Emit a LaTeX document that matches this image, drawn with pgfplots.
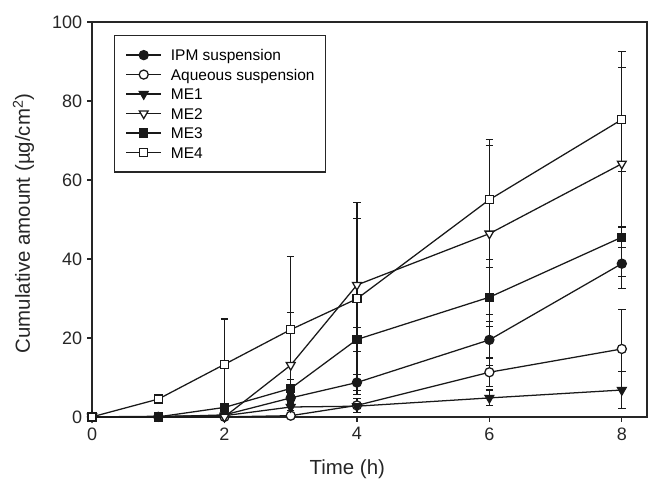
\documentclass[border=0pt]{standalone}
\usepackage{fontspec}
\setmainfont{Liberation Sans}
\usepackage{pgfplots}
\pgfplotsset{compat=1.18}

% time (h), mean, sd
\pgfplotstableread{
t m e
0 0 0
1 0 0
2 0.5 0.5
3 4.8 1.0
4 8.7 2.1
6 19.5 6.5
8 38.8 6.2
}\ipm
\pgfplotstableread{
t m e
0 0 0
2 0 0
3 0.3 0.3
4 2.9 1.8
6 11.3 3.6
8 17.2 9.9
}\aqu
\pgfplotstableread{
t m e
0 0 0
2 0.3 0.3
3 2.5 0.8
4 2.7 0.6
6 4.8 2.0
8 6.8 4.7
}\meone
\pgfplotstableread{
t m e
0 0 0
2 0 0
3 13.1 13.4
4 33.4 16.8
6 46.4 22.3
8 64.1 28.5
}\metwo
\pgfplotstableread{
t m e
0 0 0
1 0 0
2 2.4 1.0
3 7.2 2.2
4 19.6 3.0
6 30.3 7.5
8 45.5 2.6
}\methree
\pgfplotstableread{
t m e
0 0 0
1 4.5 0.8
2 13.3 11.5
3 22.1 18.6
4 29.9 24.3
6 55.0 15.2
8 75.3 13.2
}\mefour

\begin{document}
\begin{tikzpicture}
\begin{axis}[
  at={(0,0)}, anchor=south west,
  scale only axis, width=416pt, height=296pt,
  xmin=0, xmax=8.38, ymin=0, ymax=100,
  xtick={0,2,4,6,8}, ytick={0,20,40,60,80,100},
  tick pos=left, tick align=outside,
  major tick length=3.75pt,
  axis line style={black!85, line width=1.1pt},
  every tick/.style={black!85, line width=1pt},
  /pgf/number format/assume math mode=true,
  tick label style={font=\fontsize{13.5}{15}\selectfont, text=black!85},
  yticklabel style={inner xsep=3.5pt},
  xticklabel style={inner ysep=4pt},
  label style={font=\fontsize{15.3}{17}\selectfont, text=black!85},
  xlabel={Time (h)},
  ylabel={Cumulative amount (µg/cm\textsuperscript{2})},
  x label style={at={(axis description cs:0.46,-0.1456)}, anchor=base},
  y label style={at={(axis description cs:-0.112,0.49)}, anchor=base, rotate=0},
  clip=false,
  every axis plot/.append style={black!90, line width=0.95pt,
    mark options={solid, line width=0.95pt},
    error bars/y dir=both, error bars/y explicit,
    error bars/error bar style={line width=0.95pt},
    error bars/error mark options={rotate=90, mark size=2.8pt, line width=0.95pt}},
  legend cell align=left,
  legend style={at={(axis description cs:0.0396,0.967)}, anchor=north west,
    draw=black!85, line width=0.9pt, fill=white,
    font=\fontsize{11.6}{13}\selectfont,
    inner xsep=8.25pt, inner ysep=7.3pt, row sep=0pt,
    nodes={inner sep=0pt, text height=11.45pt, text depth=3.15pt},
    /tikz/every odd column/.style={column sep=6.75pt}},
  legend image code/.code={\draw[mark repeat=2,mark phase=2]
    plot coordinates {(0pt,0pt) (13.1pt,0pt) (26.25pt,0pt)};},
]
\addplot[mark=*, mark size=3.4pt] table[x=t, y=m, y error=e] {\ipm};
\addplot[mark=*, mark size=3.4pt, mark options={fill=white}] table[x=t, y=m, y error=e] {\aqu};
\addplot[mark=triangle*, mark size=3.8pt, mark options={rotate=180}] table[x=t, y=m, y error=e] {\meone};
\addplot[mark=triangle*, mark size=3.8pt, mark options={rotate=180, fill=white}] table[x=t, y=m, y error=e] {\metwo};
\addplot[mark=square*, mark size=3pt] table[x=t, y=m, y error=e] {\methree};
\addplot[mark=square*, mark size=3pt, mark options={fill=white}] table[x=t, y=m, y error=e] {\mefour};
\legend{IPM suspension, Aqueous suspension, ME1, ME2, ME3, ME4}
\end{axis}
\pgfresetboundingbox
\path (-69pt,-48pt) rectangle (416.75pt,312.5pt);
\end{tikzpicture}
\end{document}
